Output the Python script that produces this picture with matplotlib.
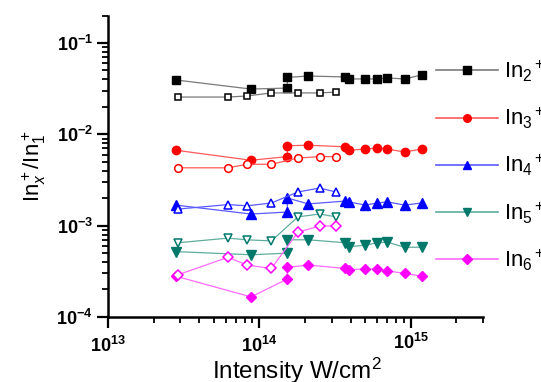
import matplotlib
matplotlib.use("Agg")
import matplotlib.pyplot as plt
import matplotlib.ticker as mticker
import numpy as np

plt.rcParams['font.family'] = ['Liberation Sans', 'DejaVu Sans']
plt.rcParams['mathtext.fontset'] = 'custom'
plt.rcParams['mathtext.rm'] = 'Liberation Sans'
plt.rcParams['mathtext.it'] = 'Liberation Sans:italic'
plt.rcParams['mathtext.bf'] = 'Liberation Sans:bold'

# ---- data ----
x_filled = [2.8e13, 8.8e13, 1.53e14, 1.53e14, 2.1e14, 3.7e14, 3.9e14, 5.0e14, 6.0e14, 7.0e14, 9.1e14, 1.18e15]
x_open = [2.9e13, 6.2e13, 8.3e13, 1.2e14, 1.8e14, 2.5e14, 3.2e14]

in2_filled = [0.0394, 0.0313, 0.0321, 0.0420, 0.0435, 0.0425, 0.0404, 0.0404, 0.0404, 0.0414, 0.0404, 0.0447]
in2_open = [0.0256, 0.0256, 0.0263, 0.0284, 0.0284, 0.0284, 0.0290]
in3_filled = [0.0067, 0.0052, 0.0057, 0.0075, 0.0076, 0.0073, 0.0067, 0.0069, 0.0071, 0.0069, 0.0064, 0.0069]
in3_open = [0.0043, 0.0043, 0.0047, 0.0047, 0.0055, 0.0057, 0.0057]
in4_filled = [0.00168, 0.00134, 0.00141, 0.00201, 0.00173, 0.00186, 0.00182, 0.00168, 0.00177, 0.00182, 0.00168, 0.00177]
in4_open = [0.00152, 0.00170, 0.00165, 0.00177, 0.00234, 0.00258, 0.00234]
in5_filled = [0.00052, 0.00048, 0.00050, 0.00070, 0.00070, 0.00065, 0.00059, 0.00061, 0.00065, 0.00066, 0.00058, 0.00058]
in5_open = [0.00065, 0.00073, 0.00070, 0.00068, 0.00125, 0.00134, 0.00125]
in6_filled = [0.00028, 0.000166, 0.00026, 0.00035, 0.00037, 0.00034, 0.00033, 0.000335, 0.000335, 0.00032, 0.00030, 0.00028]
in6_open = [0.00029, 0.00045, 0.00037, 0.00034, 0.00085, 0.00099, 0.00099]

labels = [r'In$_2{}^+$', r'In$_3{}^+$', r'In$_4{}^+$', r'In$_5{}^+$', r'In$_6{}^+$']
marker_colors = ['#000000', '#ff0000', '#0000ff', '#00796b', '#ff00ff']
line_colors = ['#7a7a7a', '#ff5a5a', '#5a5aff', '#5fae9f', '#ff6aff']
markers = ['s', 'o', '^', 'v', 'D']
msizes = [5.5, 6, 6.5, 6.5, 5.5]

x_ticks = [1e13, 1e14, 1e15]
x_ticklabels = [r'$\mathbf{10^{13}}$', r'$\mathbf{10^{14}}$', r'$\mathbf{10^{15}}$']
y_ticks = [1e-4, 1e-3, 1e-2, 1e-1]
y_ticklabels = [r'$\mathbf{10^{-4}}$', r'$\mathbf{10^{-3}}$', r'$\mathbf{10^{-2}}$', r'$\mathbf{10^{-1}}$']

filled = [in2_filled, in3_filled, in4_filled, in5_filled, in6_filled]
opens = [in2_open, in3_open, in4_open, in5_open, in6_open]

fig = plt.figure(figsize=(5.41, 3.82), dpi=100)
ax = fig.add_axes([0.1996, 0.1702, 0.6932, 0.7892])

handles = []
for f, o, lab, mc, lc, mk, ms in zip(filled, opens, labels, marker_colors, line_colors, markers, msizes):
    h, = ax.plot(x_filled, f, color=lc, lw=0.9, marker=mk, ms=ms,
                 markerfacecolor=mc, markeredgecolor=mc, label=lab)
    ax.plot(x_open, o, color=lc, lw=0.9, marker=mk, ms=ms - 0.5,
            markerfacecolor='white', markeredgecolor=mc, markeredgewidth=1.1)
    handles.append(h)

ax.set_xscale('log')
ax.set_yscale('log')
ax.set_xlim(1e13, 3e15)
ax.set_ylim(1e-4, 0.2)

ax.spines['top'].set_visible(False)
ax.spines['right'].set_visible(False)
ax.spines['left'].set_linewidth(1.8)
ax.spines['bottom'].set_linewidth(1.8)

ax.xaxis.set_major_locator(mticker.FixedLocator(x_ticks))
ax.xaxis.set_major_formatter(mticker.FixedFormatter(x_ticklabels))
ax.yaxis.set_major_locator(mticker.FixedLocator(y_ticks))
ax.yaxis.set_major_formatter(mticker.FixedFormatter(y_ticklabels))
ax.xaxis.set_minor_locator(mticker.LogLocator(base=10, subs=np.arange(2, 10)))
ax.yaxis.set_minor_locator(mticker.LogLocator(base=10, subs=np.arange(2, 10)))
ax.xaxis.set_minor_formatter(mticker.NullFormatter())
ax.yaxis.set_minor_formatter(mticker.NullFormatter())
ax.tick_params(which='major', direction='out', length=8, width=1.6, labelsize=13, pad=3)
ax.tick_params(axis='x', which='major', pad=5.5)
ax.tick_params(which='minor', direction='out', length=4, width=1.3)

# the 10^15 label sits slightly higher in the reference
tk = ax.xaxis.get_major_ticks()[2]
tk.label1.set_y(0.01)

ax.set_ylabel(r'In$_x^+$/In$_1^+$', fontsize=16)
ax.yaxis.set_label_coords(-0.16, 0.5)
ax.set_xlabel(r'Intensity W/cm$^2$', fontsize=17.5)
ax.xaxis.set_label_coords(0.505, -0.128)

leg = ax.legend(handles=handles, loc='upper left', bbox_to_anchor=(0.852, 0.887),
                bbox_transform=ax.transAxes, frameon=False, fontsize=16,
                handlelength=2.75, handletextpad=0.3, labelspacing=1.0,
                borderaxespad=0)
for line in leg.get_lines():
    line.set_linewidth(1.2)
    line.set_markersize(5.5)

fig.savefig('out.png', dpi=100)
